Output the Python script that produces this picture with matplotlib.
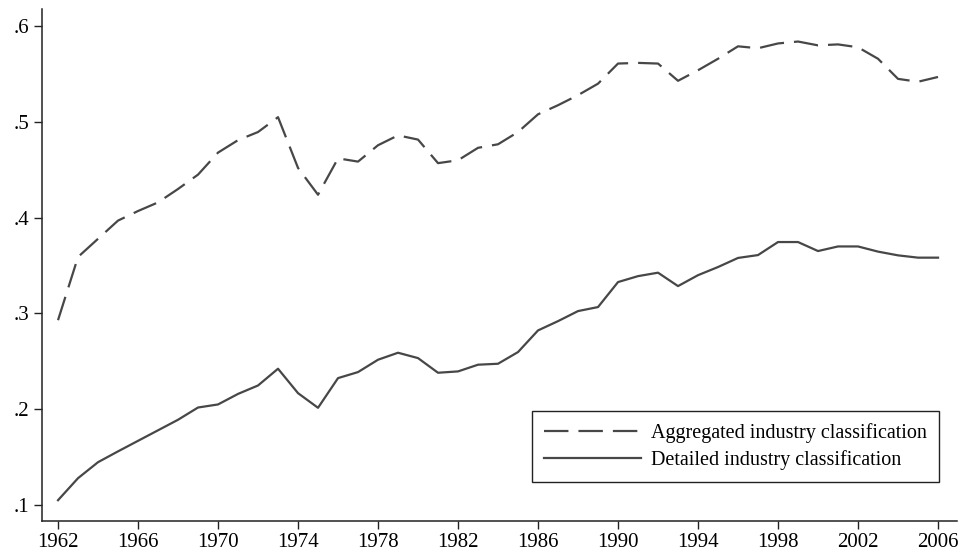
import matplotlib
matplotlib.use("Agg")
import matplotlib.pyplot as plt

years = list(range(1962, 2007))

# Aggregated industry classification (dashed)
aggregated = [0.293, 0.359, 0.378, 0.397, 0.407, 0.416, 0.430, 0.445, 0.468, 0.481,
              0.4895, 0.505, 0.452, 0.424, 0.462, 0.4586, 0.4757, 0.486, 0.4816, 0.457,
              0.460, 0.473, 0.4767, 0.4895, 0.508, 0.5175, 0.528, 0.540, 0.561, 0.5617,
              0.561, 0.543, 0.554, 0.566, 0.579, 0.577, 0.582, 0.584, 0.580, 0.581,
              0.578, 0.566, 0.545, 0.542, 0.547]

# Detailed industry classification (solid)
detailed = [0.105, 0.128, 0.1447, 0.156, 0.167, 0.178, 0.189, 0.2018, 0.205, 0.216,
            0.2248, 0.2423, 0.2168, 0.2015, 0.2325, 0.2388, 0.2517, 0.259, 0.2534, 0.2381,
            0.2395, 0.2465, 0.2475, 0.2597, 0.2823, 0.292, 0.3025, 0.3067, 0.3328, 0.339,
            0.3426, 0.3286, 0.340, 0.3485, 0.358, 0.361, 0.3746, 0.3746, 0.3652, 0.370,
            0.370, 0.3646, 0.3607, 0.3583, 0.3583]

x_ticks = list(range(1962, 2007, 4))
y_ticks = [0.1, 0.2, 0.3, 0.4, 0.5, 0.6]
y_labels = [".1", ".2", ".3", ".4", ".5", ".6"]

plt.rcParams["font.family"] = ["Liberation Serif", "DejaVu Serif"]

fig = plt.figure(figsize=(9.66, 5.54), dpi=100)
ax = fig.add_axes([0.0435, 0.0596, 0.9472, 0.9242])

line_color = "#474747"
ax.plot(years, aggregated, color=line_color, lw=1.6, dashes=(11, 4.5),
        label="Aggregated industry classification")
ax.plot(years, detailed, color=line_color, lw=1.6,
        label="Detailed industry classification")

ax.set_xlim(1961.2, 2006.95)
ax.set_ylim(0.0833, 0.618)
ax.set_xticks(x_ticks)
ax.set_xticklabels([str(y) for y in x_ticks], fontsize=15)
ax.set_yticks(y_ticks)
ax.set_yticklabels(y_labels, fontsize=15)
ax.tick_params(direction="out", length=6, width=1, color="#222222", pad=3)

for side in ["top", "right"]:
    ax.spines[side].set_visible(False)
for side in ["left", "bottom"]:
    ax.spines[side].set_color("#222222")
    ax.spines[side].set_linewidth(1.1)

leg = ax.legend(loc="lower right", bbox_to_anchor=(939 / 966, 1 - 482 / 554),
                bbox_transform=fig.transFigure, fontsize=14.5, frameon=True,
                fancybox=False, edgecolor="#222222", framealpha=1,
                handlelength=4.8, handletextpad=0.5, borderpad=0.6,
                labelspacing=0.35, borderaxespad=0)
leg.get_frame().set_linewidth(1.0)

plt.savefig("out.png", dpi=100)
